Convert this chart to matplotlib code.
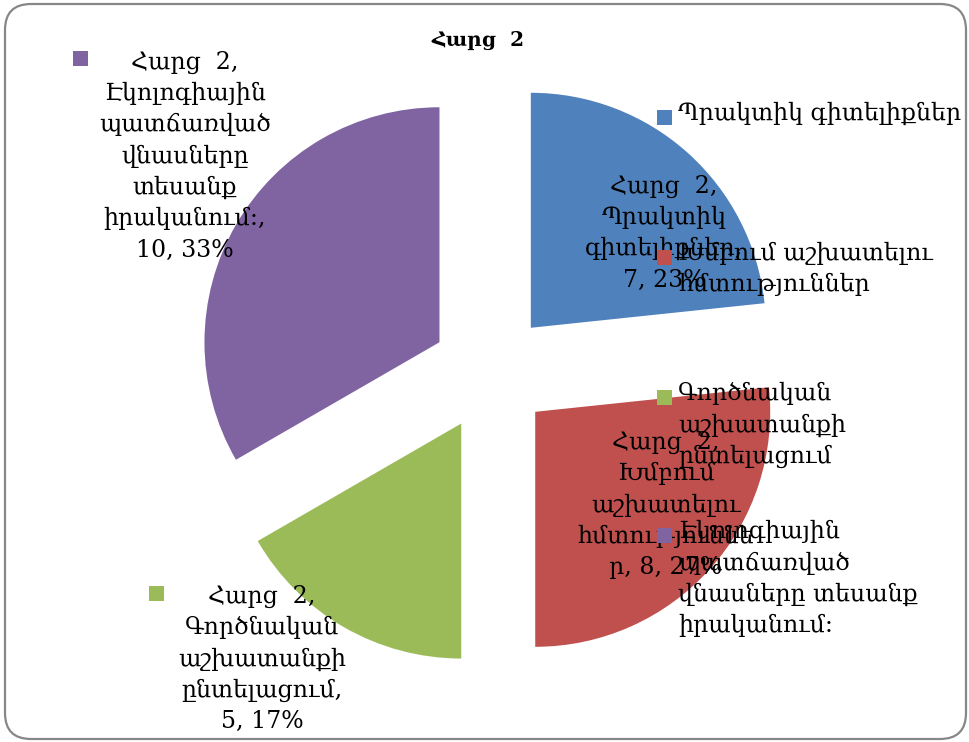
import matplotlib
matplotlib.use("Agg")
import matplotlib.pyplot as plt
from matplotlib.patches import FancyBboxPatch, Rectangle

# ---- data ----
title = "Հարց  2"
series_name = "Հարց  2"
categories = [
    "Պրակտիկ գիտելիքներ",
    "Խմբում աշխատելու հմտություններ",
    "Գործնական աշխատանքի ընտելացում",
    "Էկոլոգիային պատճառված վնասները տեսանք իրականում:",
]
values = [7, 8, 5, 10]
colors = ["#4F81BD", "#C0504D", "#9BBB59", "#8064A2"]

# wrapped forms (layout only)
legend_wrapped = [
    "Պրակտիկ գիտելիքներ",
    "Խմբում աշխատելու\nհմտություններ",
    "Գործնական\nաշխատանքի\nընտելացում",
    "Էկոլոգիային\nպատճառված\nվնասները տեսանք\nիրականում:",
]

total = sum(values)
pcts = [round(v * 100 / total) for v in values]

label_texts = [
    f"{series_name},\nՊրակտիկ\nգիտելիքներ,\n{values[0]}, {pcts[0]}%",
    f"{series_name},\nԽմբում\nաշխատելու\nհմտություննե\nր, {values[1]}, {pcts[1]}%",
    f"{series_name},\nԳործնական\nաշխատանքի\nընտելացում,\n{values[2]}, {pcts[2]}%",
    f"{series_name},\nԷկոլոգիային\nպատճառված\nվնասները\nտեսանք\nիրականում:,\n{values[3]}, {pcts[3]}%",
]

W, H = 969, 742
FONT = ["DejaVu Serif", "DejaVu Sans"]
plt.rcParams["font.family"] = FONT

fig = plt.figure(figsize=(W / 100, H / 100), dpi=100)
ax = fig.add_axes([0, 0, 1, 1])
ax.set_xlim(0, W)
ax.set_ylim(0, H)
ax.axis("off")

def Y(y):
    return H - y

# border
ax.add_patch(FancyBboxPatch((5, Y(739)), 961, 735,
                            boxstyle="round,pad=0,rounding_size=26",
                            fc="white", ec="#878787", lw=1.6, zorder=0))

wedges, _ = ax.pie(values, colors=colors, startangle=90, counterclock=False,
                   radius=235, center=(491, Y(372)),
                   explode=[59.5] * len(values),
                   wedgeprops=dict(linewidth=0))
for w in wedges:
    w.set_zorder(1)
ax.set_xlim(0, W)
ax.set_ylim(0, H)
ax.set_aspect("auto")

fs = 17
LS = 1.45
ax.text(478, Y(40), title, ha="center", va="center", fontsize=14.5,
        fontweight="bold", zorder=5)

# data labels
label_pos = [(664, 233), (666, 505), (262, 659), (185, 156)]
for txt, (x, y) in zip(label_texts, label_pos):
    ax.text(x, Y(y), txt, ha="center", va="center", fontsize=fs,
            linespacing=LS, zorder=5)

# keys in labels for green and purple
for i, (kx, ky) in [(2, (157, 593)), (3, (81, 58))]:
    ax.add_patch(Rectangle((kx - 7.5, Y(ky) - 7.5), 15, 15,
                           fc=wedges[i].get_facecolor(), ec="none", zorder=5))

# legend
leg_y = [117, 257, 397, 535]
for i, (txt, y) in enumerate(zip(legend_wrapped, leg_y)):
    ax.add_patch(Rectangle((665 - 7.5, Y(y) - 7.5), 15, 15,
                           fc=wedges[i].get_facecolor(), ec="none", zorder=5))
    ax.text(678, Y(y) + 15, txt, ha="left", va="top", fontsize=fs,
            linespacing=LS, zorder=5)

fig.savefig("out.png", dpi=100)
